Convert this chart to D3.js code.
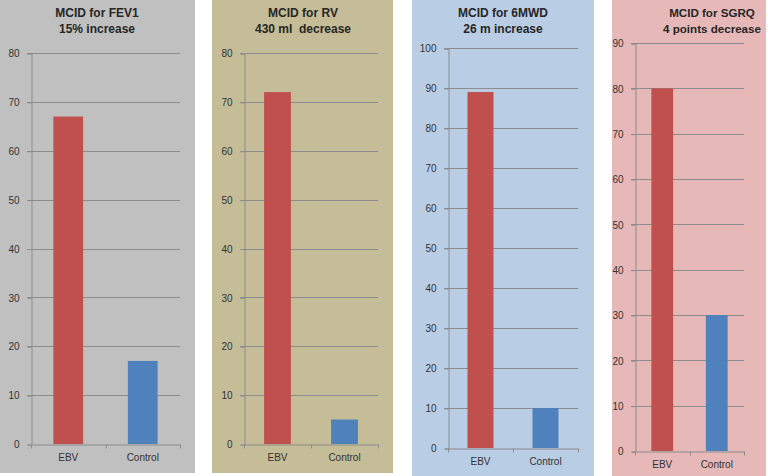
<!DOCTYPE html>
<html>
<head>
<meta charset="utf-8">
<script src="https://cdn.jsdelivr.net/npm/d3@7"></script>
<style>
  html, body { margin: 0; padding: 0; background: #fff; }
  svg { display: block; }
  text.title { white-space: pre; }
</style>
</head>
<body>
<svg id="chart" width="768" height="476"></svg>
<script>
// ---- data ----
const categories = ["EBV", "Control"];
const titleLine1 = ["MCID for FEV1", "MCID for RV", "MCID for 6MWD", "MCID for SGRQ"];
const titleLine2 = ["15% increase", "430 ml  decrease", "26 m increase", "4 points decrease"];
const fev1Values = [67, 17];
const rvValues = [72, 5];
const mwdValues = [89, 10];
const sgrqValues = [80, 30];
const axisMax = [80, 80, 100, 90];
const tickStep = 10;

const panelValues = [fev1Values, rvValues, mwdValues, sgrqValues];

// ---- layout / style ----
const layout = [
  { x0: 0,   x1: 195, y1: 473, bg: "#c0c0c0", axL: 31,  axR: 180, yTop: 53, yZero: 444, tx: 97, fs: 12 },
  { x0: 212, x1: 393, y1: 473, bg: "#c4bd97", axL: 244, axR: 378, yTop: 53, yZero: 444, tx: 303, fs: 12 },
  { x0: 412, x1: 594, y1: 476, bg: "#b9cde5", axL: 448, axR: 578, yTop: 48, yZero: 448, tx: 503, fs: 12 },
  { x0: 612, x1: 766, y1: 476, bg: "#e6b9b8", axL: 635, axR: 744, yTop: 43, yZero: 451, tx: 712, fs: 11.6 }
];
const barColors = ["#c0504d", "#4f81bd"];
const gridColor = "#8c8c8c";
const textColor = "#262626";
const tickColor = "#333333";

const svg = d3.select("#chart");

layout.forEach((L, i) => {
  const g = svg.append("g");
  g.append("rect")
    .attr("x", L.x0).attr("y", 0)
    .attr("width", L.x1 - L.x0).attr("height", L.y1)
    .attr("fill", L.bg);

  // titles
  [titleLine1[i], titleLine2[i]].forEach((t, k) => {
    g.append("text")
      .attr("class", "title")
      .attr("x", L.tx).attr("y", 17 + k * 16)
      .attr("text-anchor", "middle")
      .attr("font-family", "Liberation Sans, Arial, sans-serif")
      .attr("font-weight", "bold").attr("font-size", L.fs)
      .attr("fill", textColor)
      .text(t);
  });

  const y = d3.scaleLinear().domain([0, axisMax[i]]).range([L.yZero, L.yTop]);
  const x = d3.scaleBand().domain(categories).range([L.axL, L.axR]).padding(0);
  const step = x.step();
  const ticks = d3.range(0, axisMax[i] + tickStep / 2, tickStep);

  // gridlines
  g.selectAll(".grid").data(ticks.filter(t => t > 0)).join("line")
    .attr("x1", L.axL - 4).attr("x2", L.axR)
    .attr("y1", d => Math.round(y(d)) + 0.5).attr("y2", d => Math.round(y(d)) + 0.5)
    .attr("stroke", gridColor).attr("stroke-width", 1);

  // y axis
  const yAxis = d3.axisLeft(y).tickValues(ticks).tickSize(4).tickPadding(8).tickFormat(d3.format("d"));
  const ya = g.append("g").attr("transform", `translate(${L.axL + 0.5},0.5)`).call(yAxis);
  ya.select(".domain").attr("stroke", gridColor);
  ya.selectAll(".tick line").attr("stroke", gridColor);
  ya.selectAll(".tick text")
    .attr("font-family", "Liberation Sans, Arial, sans-serif")
    .attr("font-size", 10).attr("fill", tickColor);

  // bars
  g.selectAll(".bar").data(categories).join("rect")
    .attr("x", d => x(d) + step * 0.3)
    .attr("width", step * 0.4)
    .attr("y", (d, j) => y(panelValues[i][j]))
    .attr("height", (d, j) => L.yZero - y(panelValues[i][j]))
    .attr("fill", (d, j) => barColors[j]);

  // x axis
  const xAxis = d3.axisBottom(x).tickSize(0).tickPadding(9);
  const xa = g.append("g").attr("transform", `translate(0,${L.yZero + 0.5})`).call(xAxis);
  xa.select(".domain").attr("stroke", gridColor);
  xa.selectAll(".tick text")
    .attr("font-family", "Liberation Sans, Arial, sans-serif")
    .attr("font-size", 10).attr("fill", tickColor);
  // category boundary ticks
  const bounds = [L.axL, L.axL + step, L.axR];
  xa.selectAll(".btick").data(bounds).join("line")
    .attr("x1", d => Math.round(d) + 0.5).attr("x2", d => Math.round(d) + 0.5)
    .attr("y1", 0).attr("y2", 4)
    .attr("stroke", gridColor);
});
</script>
</body>
</html>
